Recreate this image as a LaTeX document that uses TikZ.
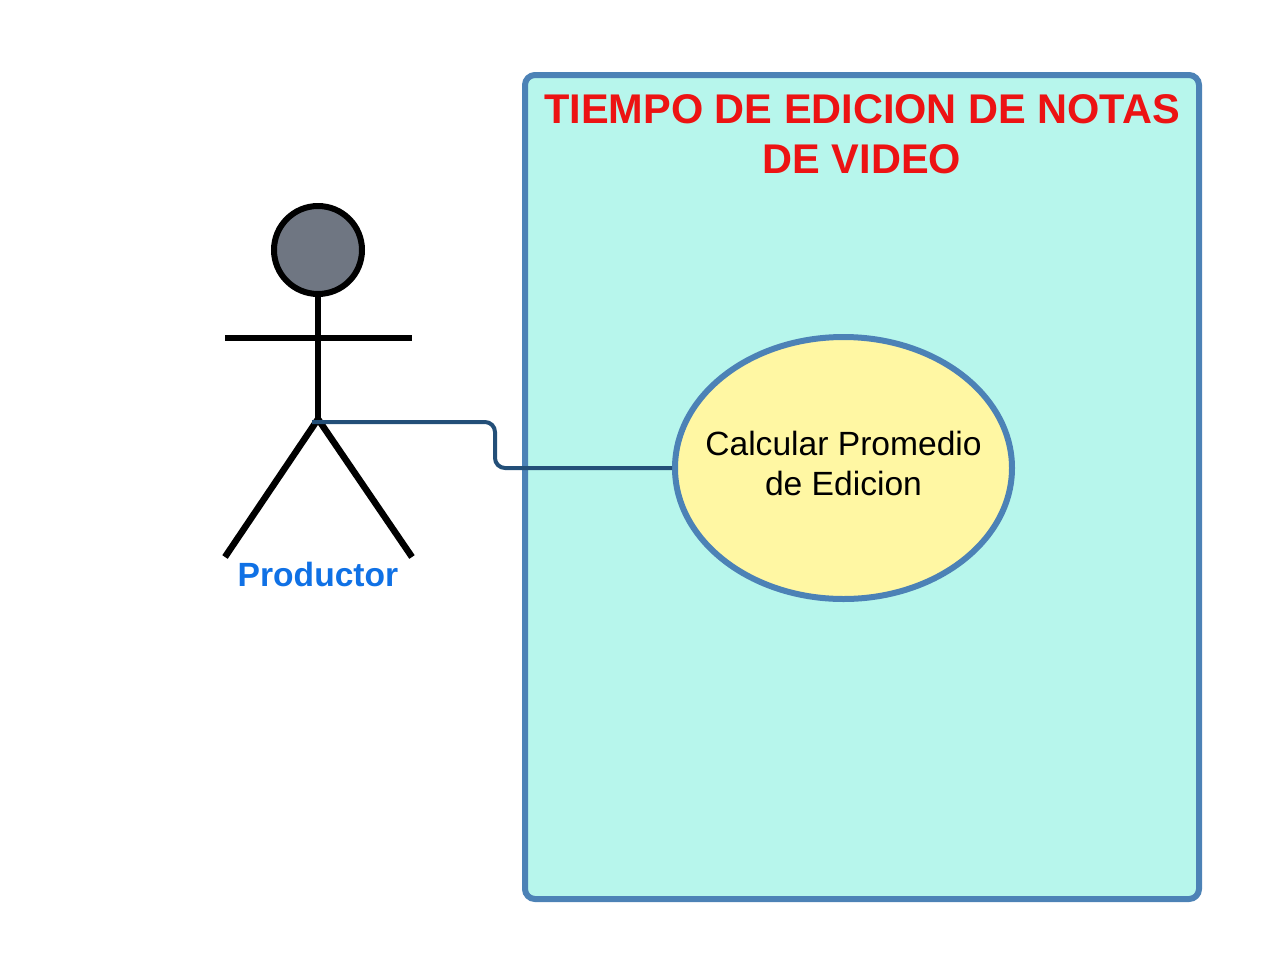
\documentclass[tikz,border=0pt]{standalone}
\usepackage{fontspec}
\setmainfont{Liberation Sans}
\usetikzlibrary{arrows.meta,positioning,calc,shapes.geometric}
\definecolor{sysfill}{HTML}{B7F6EC}
\definecolor{sysline}{HTML}{4C82B6}
\definecolor{casefill}{HTML}{FFF7A3}
\definecolor{headfill}{HTML}{6F7682}
\definecolor{linkline}{HTML}{234F78}
\definecolor{titlered}{HTML}{EC1313}
\definecolor{actorblue}{HTML}{1071E5}
\newcommand{\natgap}{\spaceskip=0.278em\relax}
\tikzset{
  sysbox/.style={
    draw=sysline,
    fill=sysfill,
    line width=6pt,
    rounded corners=10pt,
    minimum width=674pt,
    minimum height=824pt
  },
  casebox/.style={
    ellipse,
    draw=sysline,
    fill=casefill,
    line width=6pt,
    inner sep=0pt,
    minimum width=337pt,
    minimum height=262pt
  },
  casetext/.style={
    align=center,
    inner sep=0pt,
    font=\fontsize{33.6}{40}\selectfont
  },
  headbox/.style={
    circle,
    draw=black,
    fill=headfill,
    line width=6pt,
    inner sep=0pt,
    minimum size=88pt
  },
  titletext/.style={
    text=titlered,
    align=center,
    text width=660pt,
    inner sep=0pt,
    font=\bfseries\fontsize{41.5}{50}\selectfont
  },
  actortext/.style={
    text=actorblue,
    inner sep=0pt,
    font=\bfseries\fontsize{33.6}{40}\selectfont
  },
  limb/.style={draw=black, line width=6.5pt},
  linkarrow/.style={draw=linkline, line width=4pt, rounded corners=10pt}
}
\begin{document}
\begin{tikzpicture}[x=1pt,y=-1pt]
  \useasboundingbox (0,0) rectangle (1275,975);
  \node[sysbox] (system) at (862,487) {};
  \node[titletext] (title) at (862,134) {\natgap TIEMPO DE EDICION DE NOTAS\\DE VIDEO};
  \node[casebox] (calc) at (843.5,468) {};
  \node[casetext] (calctext) at (843.5,463) {\natgap Calcular Promedio\\de Edicion};
  \node[headbox] (head) at (318,250) {};
  \coordinate (hip) at (318,419);
  \coordinate (armL) at (225,338);
  \coordinate (armR) at (412,338);
  \coordinate (footL) at (225,557);
  \coordinate (footR) at (412,557);
  \node[actortext] (actor) at (318,574) {Productor};
  \draw[limb,line width=6pt] (head) -- (318,405) to[out=-90,in=90] (hip);
  \draw[limb] (armL) -- (armR);
  \draw[limb] (footL) -- (hip) -- (footR);
  \draw[linkarrow] (hip) ++(-6,3) -- (495,422) -- (495,468) -- (calc.west);
\end{tikzpicture}
\end{document}
